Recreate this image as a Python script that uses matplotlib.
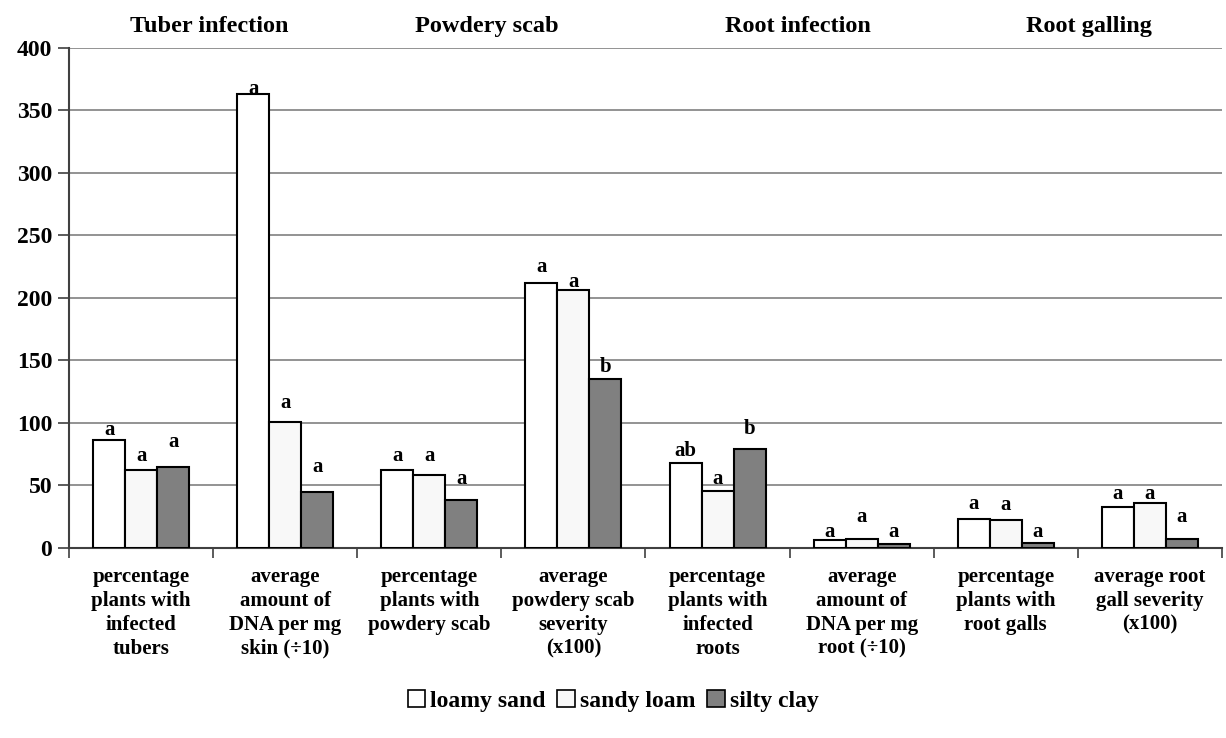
import numpy as np
from matplotlib import pyplot as plt
from matplotlib.patches import Patch

categories = ["percentage\nplants with\ninfected\ntubers",
              "average\namount of\nDNA per mg\nskin (\u00f710)",
              "percentage\nplants with\npowdery scab",
              "average\npowdery scab\nseverity\n(x100)",
              "percentage\nplants with\ninfected\nroots",
              "average\namount of\nDNA per mg\nroot (\u00f710)",
              "percentage\nplants with\nroot galls",
              "average root\ngall severity\n(x100)"]
soils = ["loamy sand", "sandy loam", "silty clay"]
loamy_sand = [86, 363, 62, 212, 68, 6, 23.5, 33]
sandy_loam = [62, 100.5, 58.7, 206, 45.6, 7.5, 22, 36.3]
silty_clay = [65, 44.5, 38, 135.5, 79.5, 3, 4.3, 7.5]
# significance letters and the heights they are written at
letters = [["a", "a", "a", "a", "ab", "a", "a", "a"],
           ["a", "a", "a", "a", "a", "a", "a", "a"],
           ["a", "a", "a", "b", "b", "a", "a", "a"]]
letter_y = [[94, 367, 73.6, 224.5, 77.3, 12.5, 35, 43],
            [73.6, 115.7, 73.6, 213, 55, 24.5, 34, 43],
            [85, 64.5, 55, 144.5, 95, 12.5, 13, 24.5]]
sections = ["Tuber infection", "Powdery scab", "Root infection", "Root galling"]
section_x = [0.47, 2.40, 4.56, 6.58]

plt.rcParams['font.family'] = ['Liberation Serif', 'DejaVu Serif']
plt.rcParams['font.weight'] = 'bold'

fig = plt.figure(figsize=(12.26, 7.38), dpi=100)
ax = fig.add_axes([0.0563, 0.2575, 0.9404, 0.6775])

x = np.arange(len(categories))
w = 0.222
colors = ["white", "#f8f8f8", "#808080"]
for i, vals in enumerate([loamy_sand, sandy_loam, silty_clay]):
    xs = x + (i - 1) * w
    ax.bar(xs, vals, w, color=colors[i], edgecolor="black", linewidth=1.5, zorder=3)
    for j in range(len(categories)):
        ax.text(xs[j], letter_y[i][j], letters[i][j], ha="center", va="center",
                fontsize=15, fontweight="bold", zorder=4)

ax.set_xlim(-0.5, len(categories) - 0.5)
ax.set_ylim(0, 400)
ax.set_yticks(range(0, 401, 50))
ax.yaxis.grid(True, color="#808080", linewidth=1.2, zorder=0)
ax.tick_params(axis="y", labelsize=17, length=8, width=1.2, color="#404040", pad=4)
for lab in ax.get_yticklabels():
    lab.set_fontweight("bold")

ax.set_xticks(x)
ax.set_xticklabels(categories, fontsize=15, fontweight="bold", linespacing=1.25)
ax.tick_params(axis="x", length=0, pad=14)
ax.set_xticks(np.arange(-0.5, len(categories)), minor=True)
ax.tick_params(axis="x", which="minor", length=7, width=1.2, color="#404040")

for s in ["top", "right"]:
    ax.spines[s].set_visible(False)
ax.spines["left"].set_color("#404040")
ax.spines["left"].set_linewidth(1.5)
ax.spines["bottom"].set_color("#404040")
ax.spines["bottom"].set_linewidth(1.5)

for name, sx in zip(sections, section_x):
    ax.text(sx, 1.042, name, transform=ax.get_xaxis_transform(), ha="center",
            va="center", fontsize=17.5, fontweight="bold")

handles = [Patch(facecolor=c, edgecolor="black", linewidth=1.2) for c in colors]
fig.legend(handles, soils, loc="center", bbox_to_anchor=(0.5, 0.05), ncol=3,
           frameon=False, prop={"weight": "bold", "size": 17},
           handlelength=0.75, handleheight=0.75, handletextpad=0.2, columnspacing=0.5)

fig.savefig("out.png", dpi=100)
